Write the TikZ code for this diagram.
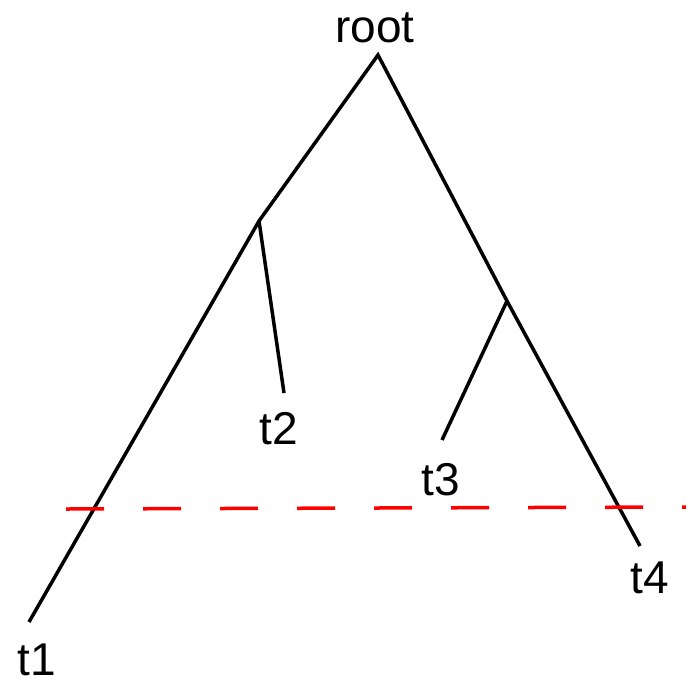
\documentclass[tikz,border=0pt]{standalone}
\usepackage{fontspec}
\setmainfont{Liberation Sans}
\begin{document}
\begin{tikzpicture}[x=1pt,y=-1pt,
  lbl/.style={anchor=base,inner sep=0pt,font=\fontsize{46}{52}\selectfont},
  branch/.style={line width=3.5pt,black},
  cut/.style={line width=3.5pt,red,dash pattern=on 38pt off 39pt}]
\useasboundingbox (0,0) rectangle (693,681);
% labels
\node[lbl] (lroot) at (375,42) {root};
\node[lbl] (l1) at (37,675) {t1};
\node[lbl] (l2) at (279,444) {t2};
\node[lbl] (l3) at (441,495) {t3};
\node[lbl] (l4) at (650,593) {t4};
% tree points
\coordinate (r) at (378,55);
\coordinate (a) at (259,221);
\coordinate (b) at (507,301);
\coordinate (e1) at (29,622);
\coordinate (e2) at (284,393);
\coordinate (e3) at (442,440);
\coordinate (e4) at (640,546);
\coordinate (c1) at (66,509);
\coordinate (c2) at (686,507);
% branches
\draw[branch] (e1) -- (a) -- (r) -- (b) -- (e4);
\draw[branch] (a) -- (e2);
\draw[branch] (b) -- (e3);
% cut line
\draw[cut] (c1) -- (c2);
\end{tikzpicture}
\end{document}
